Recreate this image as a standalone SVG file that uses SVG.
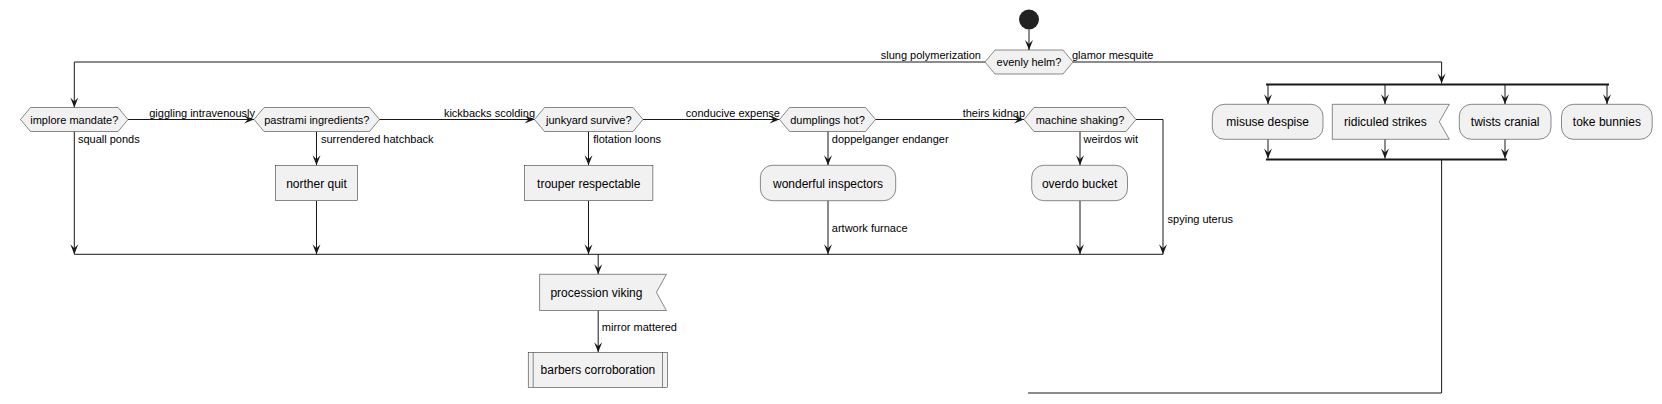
<svg xmlns="http://www.w3.org/2000/svg" width="1662" height="404" viewBox="0 0 1662 404">
<defs>
<style>
.n{fill:#F1F1F1;stroke:#181818;stroke-width:0.5}
.c{fill:none;stroke:#181818;stroke-width:1}
.t{font-family:"Liberation Sans",Arial,sans-serif;font-size:12px;fill:#000;text-anchor:middle}
.d{font-family:"Liberation Sans",Arial,sans-serif;font-size:11px;fill:#000;text-anchor:middle}
.l{font-family:"Liberation Sans",Arial,sans-serif;font-size:11px;fill:#000}
.e{text-anchor:end}
.bar{fill:#181818}
</style>
<marker id="a" viewBox="-11 -5 12 10" refX="0" refY="0" markerWidth="12" markerHeight="10" markerUnits="userSpaceOnUse" orient="auto">
<path d="M0,0 L-10,-4 L-6,0 L-10,4 Z" fill="#181818"/>
</marker>
</defs>
<rect width="1662" height="404" fill="#FFFFFF"/>
<g id="connectors">
<path class="c" d="M1029,29.5 V50" marker-end="url(#a)"/>
<path class="c" d="M985,62 H74.3 V107.5" marker-end="url(#a)"/>
<path class="c" d="M1073,62 H1441.6 V83.5" marker-end="url(#a)"/>
<path class="c" d="M128,119.5 H254" marker-end="url(#a)"/>
<path class="c" d="M379.5,119.5 H534.5" marker-end="url(#a)"/>
<path class="c" d="M643,119.5 H779.5" marker-end="url(#a)"/>
<path class="c" d="M875.5,119.5 H1024" marker-end="url(#a)"/>
<path class="c" d="M74.3,131.5 V254.3" marker-end="url(#a)"/>
<path class="c" d="M316.5,131.5 V165.3" marker-end="url(#a)"/>
<path class="c" d="M316.5,200.7 V254.3" marker-end="url(#a)"/>
<path class="c" d="M588.5,131.5 V165.3" marker-end="url(#a)"/>
<path class="c" d="M588.5,200.7 V254.3" marker-end="url(#a)"/>
<path class="c" d="M828,131.5 V165.3" marker-end="url(#a)"/>
<path class="c" d="M828,200.7 V254.3" marker-end="url(#a)"/>
<path class="c" d="M1080,131.5 V165.3" marker-end="url(#a)"/>
<path class="c" d="M1080,200.7 V254.3" marker-end="url(#a)"/>
<path class="c" d="M1136,119.5 H1163 V254.3" marker-end="url(#a)"/>
<path class="c" d="M74.3,254.3 H1163"/>
<path class="c" d="M598.2,254.3 V274.3" marker-end="url(#a)"/>
<path class="c" d="M598.2,310.5 V352.3" marker-end="url(#a)"/>
<path class="c" d="M1268,84 V104.3" marker-end="url(#a)"/>
<path class="c" d="M1385,84 V104.3" marker-end="url(#a)"/>
<path class="c" d="M1505,84 V104.3" marker-end="url(#a)"/>
<path class="c" d="M1607,84 V104.3" marker-end="url(#a)"/>
<path class="c" d="M1268,139.3 V158.5" marker-end="url(#a)"/>
<path class="c" d="M1385,139.3 V158.5" marker-end="url(#a)"/>
<path class="c" d="M1505,139.3 V158.5" marker-end="url(#a)"/>
<path class="c" d="M1441.6,159 V393 H1028"/>
<text class="l e" x="981" y="59">slung polymerization</text>
<text class="l" x="1072" y="59">glamor mesquite</text>
<text class="l e" x="255" y="116.7">giggling intravenously</text>
<text class="l e" x="535" y="116.7">kickbacks scolding</text>
<text class="l e" x="780" y="116.7">conducive expense</text>
<text class="l e" x="1025" y="116.7">theirs kidnap</text>
<text class="l" x="77.9" y="142.7">squall ponds</text>
<text class="l" x="321" y="142.7">surrendered hatchback</text>
<text class="l" x="593.2" y="142.7">flotation loons</text>
<text class="l" x="831.8" y="142.7">doppelganger endanger</text>
<text class="l" x="1083.6" y="142.7">weirdos wit</text>
<text class="l" x="831.8" y="232.3">artwork furnace</text>
<text class="l" x="1167.6" y="222.7">spying uterus</text>
<text class="l" x="601.8" y="330.7">mirror mattered</text>
</g>
<g id="start"><circle cx="1029" cy="19.5" r="10" fill="#222222"/></g>
<g id="evenly-helm"><polygon class="n" points="985,62 995,50 1063,50 1073,62 1063,74 995,74"/><text class="d" x="1029" y="66">evenly helm?</text></g>
<g id="implore-mandate"><polygon class="n" points="20.5,119.5 30.5,107.5 118,107.5 128,119.5 118,131.5 30.5,131.5"/><text class="d" x="74.3" y="123.5">implore mandate?</text></g>
<g id="pastrami-ingredients"><polygon class="n" points="254,119.5 264,107.5 369.5,107.5 379.5,119.5 369.5,131.5 264,131.5"/><text class="d" x="316.75" y="123.5">pastrami ingredients?</text></g>
<g id="junkyard-survive"><polygon class="n" points="534.5,119.5 544.5,107.5 633,107.5 643,119.5 633,131.5 544.5,131.5"/><text class="d" x="588.75" y="123.5">junkyard survive?</text></g>
<g id="dumplings-hot"><polygon class="n" points="779.5,119.5 789.5,107.5 865.5,107.5 875.5,119.5 865.5,131.5 789.5,131.5"/><text class="d" x="827.5" y="123.5">dumplings hot?</text></g>
<g id="machine-shaking"><polygon class="n" points="1024,119.5 1034,107.5 1126,107.5 1136,119.5 1126,131.5 1034,131.5"/><text class="d" x="1080" y="123.5">machine shaking?</text></g>
<g id="norther-quit"><rect class="n" x="275.4" y="165.3" width="82.1" height="35.4"/><text class="t" x="316.5" y="187.5">norther quit</text></g>
<g id="trouper-respectable"><rect class="n" x="524.6" y="165.3" width="128.3" height="35.4"/><text class="t" x="588.75" y="187.5">trouper respectable</text></g>
<g id="wonderful-inspectors"><rect class="n" x="760.4" y="165.3" width="135.3" height="35.4" rx="12" ry="12"/><text class="t" x="828" y="187.5">wonderful inspectors</text></g>
<g id="overdo-bucket"><rect class="n" x="1031.7" y="165.3" width="95.8" height="35.4" rx="12" ry="12"/><text class="t" x="1079.6" y="187.5">overdo bucket</text></g>
<g id="procession-viking"><path class="n" d="M539.6,274.3 H666.4 L656.4,292.4 L666.4,310.5 H539.6 Z"/><text class="t" x="596.4" y="296.7">procession viking</text></g>
<g id="barbers-corroboration"><rect class="n" x="528.2" y="352.3" width="139.3" height="35"/><path class="c" d="M533.2,352.3 V387.3 M662.5,352.3 V387.3" style="stroke-width:0.5"/><text class="t" x="597.9" y="374.3">barbers corroboration</text></g>
<g id="fork"><rect class="bar" x="1266" y="83.5" width="343" height="2"/></g>
<g id="misuse-despise"><rect class="n" x="1212.3" y="104.3" width="110.7" height="35" rx="12" ry="12"/><text class="t" x="1267.6" y="125.7">misuse despise</text></g>
<g id="ridiculed-strikes"><path class="n" d="M1332.3,104.3 H1449.3 L1439.3,121.8 L1449.3,139.3 H1332.3 Z"/><text class="t" x="1385.4" y="125.7">ridiculed strikes</text></g>
<g id="twists-cranial"><rect class="n" x="1459.3" y="104.3" width="91.7" height="35" rx="12" ry="12"/><text class="t" x="1505.2" y="125.7">twists cranial</text></g>
<g id="toke-bunnies"><rect class="n" x="1561.5" y="104.3" width="90.7" height="35" rx="12" ry="12"/><text class="t" x="1606.9" y="125.7">toke bunnies</text></g>
<g id="join"><rect class="bar" x="1266" y="158.5" width="241" height="2"/></g>
</svg>
